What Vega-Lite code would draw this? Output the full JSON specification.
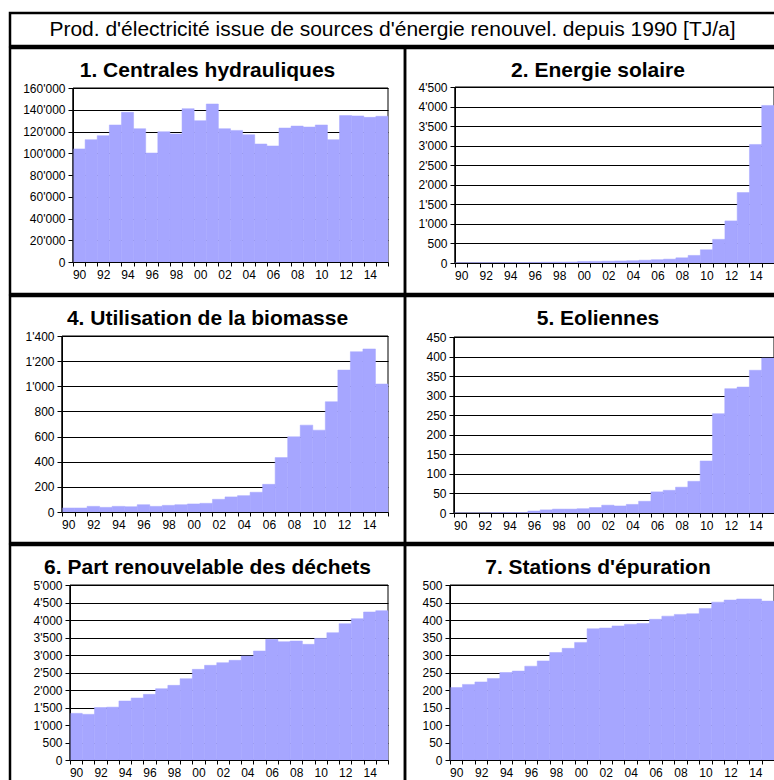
{
  "$schema": "https://vega.github.io/schema/vega-lite/v6.json",
  "background": "white",
  "padding": {"left": 8, "top": 11, "right": 0, "bottom": 0},
  "config": {
    "font": "Liberation Sans",
    "locale": {"number": {"decimal": ".", "thousands": "'", "grouping": [3], "currency": ["", ""]}},
    "view": {"stroke": "black", "strokeWidth": 2.5},
    "axis": {"domainColor": "black", "tickColor": "black", "labelColor": "black", "labelFontSize": 12, "labelFont": "Liberation Sans", "domainWidth": 1, "tickWidth": 1},
    "axisY": {"grid": true, "gridColor": "black", "gridWidth": 1, "tickSize": 5, "labelPadding": 3, "labelOverlap": false, "tickCount": 40},
    "axisX": {"grid": false, "tickSize": 4, "labelPadding": 3, "labelAngle": 0, "labelOverlap": false},
    "title": {"fontSize": 21, "fontWeight": "bold", "anchor": "middle", "frame": "group", "baseline": "alphabetic", "offset": -33, "color": "black"}
  },
  "datasets": {
    "hydro": [
      {"annee": 1990, "tj": 104000}, {"annee": 1991, "tj": 112500}, {"annee": 1992, "tj": 116200}, {"annee": 1993, "tj": 126000},
      {"annee": 1994, "tj": 137600}, {"annee": 1995, "tj": 122600}, {"annee": 1996, "tj": 100200}, {"annee": 1997, "tj": 119800},
      {"annee": 1998, "tj": 117700}, {"annee": 1999, "tj": 141000}, {"annee": 2000, "tj": 130000}, {"annee": 2001, "tj": 145300},
      {"annee": 2002, "tj": 122600}, {"annee": 2003, "tj": 121000}, {"annee": 2004, "tj": 117000}, {"annee": 2005, "tj": 108500},
      {"annee": 2006, "tj": 106700}, {"annee": 2007, "tj": 123200}, {"annee": 2008, "tj": 125000}, {"annee": 2009, "tj": 124100},
      {"annee": 2010, "tj": 126000}, {"annee": 2011, "tj": 112500}, {"annee": 2012, "tj": 134600}, {"annee": 2013, "tj": 134300},
      {"annee": 2014, "tj": 133000}, {"annee": 2015, "tj": 134000}
    ],
    "solaire": [
      {"annee": 1990, "tj": 4}, {"annee": 1991, "tj": 5}, {"annee": 1992, "tj": 7}, {"annee": 1993, "tj": 8},
      {"annee": 1994, "tj": 10}, {"annee": 1995, "tj": 13}, {"annee": 1996, "tj": 15}, {"annee": 1997, "tj": 20},
      {"annee": 1998, "tj": 23}, {"annee": 1999, "tj": 26}, {"annee": 2000, "tj": 40}, {"annee": 2001, "tj": 42},
      {"annee": 2002, "tj": 47}, {"annee": 2003, "tj": 52}, {"annee": 2004, "tj": 59}, {"annee": 2005, "tj": 72},
      {"annee": 2006, "tj": 86}, {"annee": 2007, "tj": 99}, {"annee": 2008, "tj": 133}, {"annee": 2009, "tj": 194},
      {"annee": 2010, "tj": 338}, {"annee": 2011, "tj": 605}, {"annee": 2012, "tj": 1076}, {"annee": 2013, "tj": 1800},
      {"annee": 2014, "tj": 3031}, {"annee": 2015, "tj": 4028}
    ],
    "biomasse": [
      {"annee": 1990, "tj": 32}, {"annee": 1991, "tj": 32}, {"annee": 1992, "tj": 45}, {"annee": 1993, "tj": 37},
      {"annee": 1994, "tj": 45}, {"annee": 1995, "tj": 42}, {"annee": 1996, "tj": 58}, {"annee": 1997, "tj": 45},
      {"annee": 1998, "tj": 53}, {"annee": 1999, "tj": 58}, {"annee": 2000, "tj": 64}, {"annee": 2001, "tj": 69},
      {"annee": 2002, "tj": 101}, {"annee": 2003, "tj": 120}, {"annee": 2004, "tj": 130}, {"annee": 2005, "tj": 157},
      {"annee": 2006, "tj": 220}, {"annee": 2007, "tj": 433}, {"annee": 2008, "tj": 598}, {"annee": 2009, "tj": 691},
      {"annee": 2010, "tj": 651}, {"annee": 2011, "tj": 877}, {"annee": 2012, "tj": 1129}, {"annee": 2013, "tj": 1275},
      {"annee": 2014, "tj": 1297}, {"annee": 2015, "tj": 1018}
    ],
    "eolien": [
      {"annee": 1990, "tj": 0}, {"annee": 1991, "tj": 0}, {"annee": 1992, "tj": 0}, {"annee": 1993, "tj": 1},
      {"annee": 1994, "tj": 1}, {"annee": 1995, "tj": 1}, {"annee": 1996, "tj": 5}, {"annee": 1997, "tj": 8},
      {"annee": 1998, "tj": 10}, {"annee": 1999, "tj": 10}, {"annee": 2000, "tj": 11}, {"annee": 2001, "tj": 14},
      {"annee": 2002, "tj": 20}, {"annee": 2003, "tj": 18}, {"annee": 2004, "tj": 22}, {"annee": 2005, "tj": 30},
      {"annee": 2006, "tj": 54}, {"annee": 2007, "tj": 58}, {"annee": 2008, "tj": 66}, {"annee": 2009, "tj": 81},
      {"annee": 2010, "tj": 133}, {"annee": 2011, "tj": 254}, {"annee": 2012, "tj": 318}, {"annee": 2013, "tj": 322},
      {"annee": 2014, "tj": 365}, {"annee": 2015, "tj": 396}
    ],
    "dechets": [
      {"annee": 1990, "tj": 1333}, {"annee": 1991, "tj": 1305}, {"annee": 1992, "tj": 1500}, {"annee": 1993, "tj": 1510},
      {"annee": 1994, "tj": 1686}, {"annee": 1995, "tj": 1771}, {"annee": 1996, "tj": 1876}, {"annee": 1997, "tj": 2038},
      {"annee": 1998, "tj": 2133}, {"annee": 1999, "tj": 2324}, {"annee": 2000, "tj": 2590}, {"annee": 2001, "tj": 2705},
      {"annee": 2002, "tj": 2781}, {"annee": 2003, "tj": 2848}, {"annee": 2004, "tj": 2971}, {"annee": 2005, "tj": 3114},
      {"annee": 2006, "tj": 3448}, {"annee": 2007, "tj": 3381}, {"annee": 2008, "tj": 3400}, {"annee": 2009, "tj": 3305},
      {"annee": 2010, "tj": 3476}, {"annee": 2011, "tj": 3638}, {"annee": 2012, "tj": 3895}, {"annee": 2013, "tj": 4038},
      {"annee": 2014, "tj": 4229}, {"annee": 2015, "tj": 4267}
    ],
    "epuration": [
      {"annee": 1990, "tj": 207}, {"annee": 1991, "tj": 216}, {"annee": 1992, "tj": 223}, {"annee": 1993, "tj": 233},
      {"annee": 1994, "tj": 250}, {"annee": 1995, "tj": 254}, {"annee": 1996, "tj": 268}, {"annee": 1997, "tj": 283},
      {"annee": 1998, "tj": 307}, {"annee": 1999, "tj": 319}, {"annee": 2000, "tj": 336}, {"annee": 2001, "tj": 375},
      {"annee": 2002, "tj": 377}, {"annee": 2003, "tj": 383}, {"annee": 2004, "tj": 388}, {"annee": 2005, "tj": 390},
      {"annee": 2006, "tj": 402}, {"annee": 2007, "tj": 411}, {"annee": 2008, "tj": 416}, {"annee": 2009, "tj": 418},
      {"annee": 2010, "tj": 433}, {"annee": 2011, "tj": 451}, {"annee": 2012, "tj": 457}, {"annee": 2013, "tj": 460},
      {"annee": 2014, "tj": 460}, {"annee": 2015, "tj": 454}
    ]
  },
  "spacing": -2.5,
  "vconcat": [
    {
      "width": 773,
      "height": 33,
      "view": {"stroke": "black", "strokeWidth": 2.5, "fill": "white"},
      "data": {"values": [{"texte": "Prod. d'électricité issue de sources d'énergie renouvel. depuis 1990 [TJ/a]"}]},
      "mark": {"type": "text", "fontSize": 21, "dx": -4, "color": "black"},
      "encoding": {"text": {"field": "texte"}}
    },
    {
      "spacing": 0,
      "bounds": "flush",
      "hconcat": [
        {
          "width": 395,
          "height": 246,
          "title": {"text": "1. Centrales hydrauliques"},
          "layer": [
            {
              "data": {"values": [{}]},
              "mark": {"type": "rect", "fill": "transparent", "stroke": "black", "strokeWidth": 1},
              "encoding": {
                "x": {"datum": 1990, "type": "ordinal", "bandPosition": 0},
                "x2": {"datum": 2015, "bandPosition": 1},
                "y": {"datum": 0, "type": "quantitative"},
                "y2": {"datum": 160000}
              }
            },
            {
              "data": {"name": "hydro"},
              "mark": {"type": "bar", "color": "#a6a6ff", "stroke": "#a6a6ff", "strokeWidth": 0.5},
              "encoding": {
                "x": {"field": "annee", "type": "ordinal",
                  "scale": {"range": [63, 378], "paddingInner": 0, "paddingOuter": 0},
                  "axis": {"orient": "bottom", "offset": -32, "title": null, "tickBand": "extent",
                    "labelExpr": "datum.value % 2 == 0 ? substring(toString(datum.value), 2, 4) : ''"}},
                "y": {"field": "tj", "type": "quantitative",
                  "scale": {"domain": [0, 160000], "range": [214, 40], "nice": false},
                  "axis": {"orient": "left", "offset": -63, "title": null, "format": ",d", "tickCount": 40,
                    "values": [0, 20000, 40000, 60000, 80000, 100000, 120000, 140000, 160000]}}
              }
            },
            {
              "data": {"values": [{}]},
              "mark": {"type": "rule", "color": "black", "strokeWidth": 1},
              "encoding": {
                "x": {"datum": 1990, "type": "ordinal", "bandPosition": 0},
                "y": {"datum": 0, "type": "quantitative"},
                "y2": {"datum": 160000}
              }
            }
          ]
        },
        {
          "width": 378,
          "height": 246,
          "title": {"text": "2. Energie solaire", "dx": 4},
          "layer": [
            {
              "data": {"values": [{}]},
              "mark": {"type": "rect", "fill": "transparent", "stroke": "black", "strokeWidth": 1},
              "encoding": {
                "x": {"datum": 1990, "type": "ordinal", "bandPosition": 0},
                "x2": {"datum": 2015, "bandPosition": 1},
                "y": {"datum": 0, "type": "quantitative"},
                "y2": {"datum": 4500}
              }
            },
            {
              "data": {"name": "solaire"},
              "mark": {"type": "bar", "color": "#a6a6ff", "stroke": "#a6a6ff", "strokeWidth": 0.5},
              "encoding": {
                "x": {"field": "annee", "type": "ordinal",
                  "scale": {"range": [50, 369], "paddingInner": 0, "paddingOuter": 0},
                  "axis": {"orient": "bottom", "offset": -31, "title": null, "tickBand": "extent",
                    "labelExpr": "datum.value % 2 == 0 ? substring(toString(datum.value), 2, 4) : ''"}},
                "y": {"field": "tj", "type": "quantitative",
                  "scale": {"domain": [0, 4500], "range": [215, 39], "nice": false},
                  "axis": {"orient": "left", "offset": -50, "title": null, "format": ",d", "tickCount": 40,
                    "values": [0, 500, 1000, 1500, 2000, 2500, 3000, 3500, 4000, 4500]}}
              }
            },
            {
              "data": {"values": [{}]},
              "mark": {"type": "rule", "color": "black", "strokeWidth": 1},
              "encoding": {
                "x": {"datum": 1990, "type": "ordinal", "bandPosition": 0},
                "y": {"datum": 0, "type": "quantitative"},
                "y2": {"datum": 4500}
              }
            }
          ]
        }
      ]
    },
    {
      "spacing": 0,
      "bounds": "flush",
      "hconcat": [
        {
          "width": 395,
          "height": 247,
          "title": {"text": "4. Utilisation de la biomasse"},
          "layer": [
            {
              "data": {"values": [{}]},
              "mark": {"type": "rect", "fill": "transparent", "stroke": "black", "strokeWidth": 1},
              "encoding": {
                "x": {"datum": 1990, "type": "ordinal", "bandPosition": 0},
                "x2": {"datum": 2015, "bandPosition": 1},
                "y": {"datum": 0, "type": "quantitative"},
                "y2": {"datum": 1400}
              }
            },
            {
              "data": {"name": "biomasse"},
              "mark": {"type": "bar", "color": "#a6a6ff", "stroke": "#a6a6ff", "strokeWidth": 0.5},
              "encoding": {
                "x": {"field": "annee", "type": "ordinal",
                  "scale": {"range": [52, 378], "paddingInner": 0, "paddingOuter": 0},
                  "axis": {"orient": "bottom", "offset": -31, "title": null, "tickBand": "extent",
                    "labelExpr": "datum.value % 2 == 0 ? substring(toString(datum.value), 2, 4) : ''"}},
                "y": {"field": "tj", "type": "quantitative",
                  "scale": {"domain": [0, 1400], "range": [216, 40], "nice": false},
                  "axis": {"orient": "left", "offset": -52, "title": null, "format": ",d", "tickCount": 40,
                    "values": [0, 200, 400, 600, 800, 1000, 1200, 1400]}}
              }
            },
            {
              "data": {"values": [{}]},
              "mark": {"type": "rule", "color": "black", "strokeWidth": 1},
              "encoding": {
                "x": {"datum": 1990, "type": "ordinal", "bandPosition": 0},
                "y": {"datum": 0, "type": "quantitative"},
                "y2": {"datum": 1400}
              }
            }
          ]
        },
        {
          "width": 378,
          "height": 247,
          "title": {"text": "5. Eoliennes", "dx": 4},
          "layer": [
            {
              "data": {"values": [{}]},
              "mark": {"type": "rect", "fill": "transparent", "stroke": "black", "strokeWidth": 1},
              "encoding": {
                "x": {"datum": 1990, "type": "ordinal", "bandPosition": 0},
                "x2": {"datum": 2015, "bandPosition": 1},
                "y": {"datum": 0, "type": "quantitative"},
                "y2": {"datum": 450}
              }
            },
            {
              "data": {"name": "eolien"},
              "mark": {"type": "bar", "color": "#a6a6ff", "stroke": "#a6a6ff", "strokeWidth": 0.5},
              "encoding": {
                "x": {"field": "annee", "type": "ordinal",
                  "scale": {"range": [49, 369], "paddingInner": 0, "paddingOuter": 0},
                  "axis": {"orient": "bottom", "offset": -30, "title": null, "tickBand": "extent",
                    "labelExpr": "datum.value % 2 == 0 ? substring(toString(datum.value), 2, 4) : ''"}},
                "y": {"field": "tj", "type": "quantitative",
                  "scale": {"domain": [0, 450], "range": [217, 41], "nice": false},
                  "axis": {"orient": "left", "offset": -49, "title": null, "format": ",d", "tickCount": 40,
                    "values": [0, 50, 100, 150, 200, 250, 300, 350, 400, 450]}}
              }
            },
            {
              "data": {"values": [{}]},
              "mark": {"type": "rule", "color": "black", "strokeWidth": 1},
              "encoding": {
                "x": {"datum": 1990, "type": "ordinal", "bandPosition": 0},
                "y": {"datum": 0, "type": "quantitative"},
                "y2": {"datum": 450}
              }
            }
          ]
        }
      ]
    },
    {
      "spacing": 0,
      "bounds": "flush",
      "hconcat": [
        {
          "width": 395,
          "height": 246,
          "title": {"text": "6. Part renouvelable des déchets"},
          "layer": [
            {
              "data": {"values": [{}]},
              "mark": {"type": "rect", "fill": "transparent", "stroke": "black", "strokeWidth": 1},
              "encoding": {
                "x": {"datum": 1990, "type": "ordinal", "bandPosition": 0},
                "x2": {"datum": 2015, "bandPosition": 1},
                "y": {"datum": 0, "type": "quantitative"},
                "y2": {"datum": 5000}
              }
            },
            {
              "data": {"name": "dechets"},
              "mark": {"type": "bar", "color": "#a6a6ff", "stroke": "#a6a6ff", "strokeWidth": 0.5},
              "encoding": {
                "x": {"field": "annee", "type": "ordinal",
                  "scale": {"range": [60, 378], "paddingInner": 0, "paddingOuter": 0},
                  "axis": {"orient": "bottom", "offset": -31, "title": null, "tickBand": "extent",
                    "labelExpr": "datum.value % 2 == 0 ? substring(toString(datum.value), 2, 4) : ''"}},
                "y": {"field": "tj", "type": "quantitative",
                  "scale": {"domain": [0, 5000], "range": [215, 40], "nice": false},
                  "axis": {"orient": "left", "offset": -60, "title": null, "format": ",d", "tickCount": 40,
                    "values": [0, 500, 1000, 1500, 2000, 2500, 3000, 3500, 4000, 4500, 5000]}}
              }
            },
            {
              "data": {"values": [{}]},
              "mark": {"type": "rule", "color": "black", "strokeWidth": 1},
              "encoding": {
                "x": {"datum": 1990, "type": "ordinal", "bandPosition": 0},
                "y": {"datum": 0, "type": "quantitative"},
                "y2": {"datum": 5000}
              }
            }
          ]
        },
        {
          "width": 378,
          "height": 246,
          "title": {"text": "7. Stations d'épuration", "dx": 4},
          "layer": [
            {
              "data": {"values": [{}]},
              "mark": {"type": "rect", "fill": "transparent", "stroke": "black", "strokeWidth": 1},
              "encoding": {
                "x": {"datum": 1990, "type": "ordinal", "bandPosition": 0},
                "x2": {"datum": 2015, "bandPosition": 1},
                "y": {"datum": 0, "type": "quantitative"},
                "y2": {"datum": 500}
              }
            },
            {
              "data": {"name": "epuration"},
              "mark": {"type": "bar", "color": "#a6a6ff", "stroke": "#a6a6ff", "strokeWidth": 0.5},
              "encoding": {
                "x": {"field": "annee", "type": "ordinal",
                  "scale": {"range": [45, 369], "paddingInner": 0, "paddingOuter": 0},
                  "axis": {"orient": "bottom", "offset": -31, "title": null, "tickBand": "extent",
                    "labelExpr": "datum.value % 2 == 0 ? substring(toString(datum.value), 2, 4) : ''"}},
                "y": {"field": "tj", "type": "quantitative",
                  "scale": {"domain": [0, 500], "range": [215, 40], "nice": false},
                  "axis": {"orient": "left", "offset": -45, "title": null, "format": ",d", "tickCount": 40,
                    "values": [0, 50, 100, 150, 200, 250, 300, 350, 400, 450, 500]}}
              }
            },
            {
              "data": {"values": [{}]},
              "mark": {"type": "rule", "color": "black", "strokeWidth": 1},
              "encoding": {
                "x": {"datum": 1990, "type": "ordinal", "bandPosition": 0},
                "y": {"datum": 0, "type": "quantitative"},
                "y2": {"datum": 500}
              }
            }
          ]
        }
      ]
    }
  ]
}
